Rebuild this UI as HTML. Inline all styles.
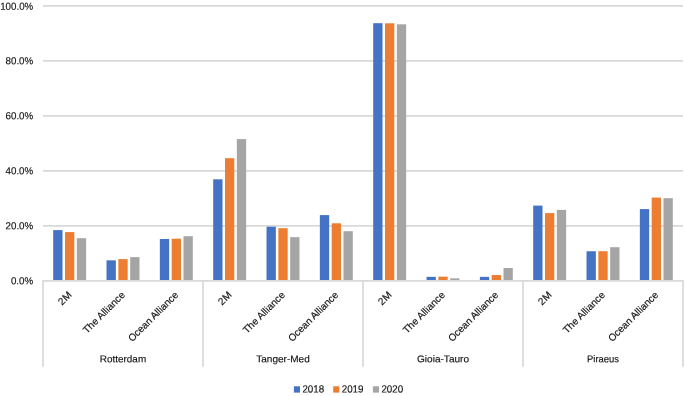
<!DOCTYPE html><html><head><meta charset="utf-8"><style>html,body{margin:0;padding:0;background:#fff;overflow:hidden}svg{display:block;will-change:transform;opacity:.999}text{font-family:"Liberation Sans",sans-serif;fill:#111;stroke:#111;stroke-width:.15px}</style></head><body>
<svg width="685" height="396" viewBox="0 0 685 396">
<rect width="685" height="396" fill="#fff"/>
<line x1="43.0" x2="683.0" y1="225.89999999999998" y2="225.89999999999998" stroke="#D9D9D9" stroke-width="1.7"/>
<line x1="43.0" x2="683.0" y1="170.89999999999998" y2="170.89999999999998" stroke="#D9D9D9" stroke-width="1.7"/>
<line x1="43.0" x2="683.0" y1="115.89999999999998" y2="115.89999999999998" stroke="#D9D9D9" stroke-width="1.7"/>
<line x1="43.0" x2="683.0" y1="60.89999999999998" y2="60.89999999999998" stroke="#D9D9D9" stroke-width="1.7"/>
<line x1="43.0" x2="683.0" y1="5.899999999999977" y2="5.899999999999977" stroke="#D9D9D9" stroke-width="1.7"/>
<text transform="translate(33.2,284.25) rotate(0.03)" font-size="10.2" text-anchor="end" textLength="22.3" lengthAdjust="spacingAndGlyphs">0.0%</text>
<text transform="translate(33.2,229.25) rotate(0.03)" font-size="10.2" text-anchor="end" textLength="27.7" lengthAdjust="spacingAndGlyphs">20.0%</text>
<text transform="translate(33.2,174.25) rotate(0.03)" font-size="10.2" text-anchor="end" textLength="27.7" lengthAdjust="spacingAndGlyphs">40.0%</text>
<text transform="translate(33.2,119.25) rotate(0.03)" font-size="10.2" text-anchor="end" textLength="27.7" lengthAdjust="spacingAndGlyphs">60.0%</text>
<text transform="translate(33.2,64.25) rotate(0.03)" font-size="10.2" text-anchor="end" textLength="27.7" lengthAdjust="spacingAndGlyphs">80.0%</text>
<text transform="translate(33.2,9.75) rotate(0.03)" font-size="10.2" text-anchor="end" textLength="33.0" lengthAdjust="spacingAndGlyphs">100.0%</text>
<rect x="53.19" y="230.10" width="9.31" height="50.80" fill="#4472C4"/>
<rect x="65.01" y="232.10" width="9.31" height="48.80" fill="#ED7D31"/>
<rect x="76.83" y="238.20" width="9.31" height="42.70" fill="#A5A5A5"/>
<rect x="106.53" y="260.35" width="9.31" height="20.55" fill="#4472C4"/>
<rect x="118.35" y="259.10" width="9.31" height="21.80" fill="#ED7D31"/>
<rect x="130.17" y="257.10" width="9.31" height="23.80" fill="#A5A5A5"/>
<rect x="159.86" y="239.00" width="9.31" height="41.90" fill="#4472C4"/>
<rect x="171.68" y="238.70" width="9.31" height="42.20" fill="#ED7D31"/>
<rect x="183.50" y="236.20" width="9.31" height="44.70" fill="#A5A5A5"/>
<rect x="213.19" y="179.30" width="9.31" height="101.60" fill="#4472C4"/>
<rect x="225.01" y="158.20" width="9.31" height="122.70" fill="#ED7D31"/>
<rect x="236.83" y="139.10" width="9.31" height="141.80" fill="#A5A5A5"/>
<rect x="266.53" y="226.70" width="9.31" height="54.20" fill="#4472C4"/>
<rect x="278.35" y="228.20" width="9.31" height="52.70" fill="#ED7D31"/>
<rect x="290.17" y="237.15" width="9.31" height="43.75" fill="#A5A5A5"/>
<rect x="319.86" y="215.10" width="9.31" height="65.80" fill="#4472C4"/>
<rect x="331.68" y="223.30" width="9.31" height="57.60" fill="#ED7D31"/>
<rect x="343.50" y="231.20" width="9.31" height="49.70" fill="#A5A5A5"/>
<rect x="373.19" y="23.20" width="9.31" height="257.70" fill="#4472C4"/>
<rect x="385.01" y="23.30" width="9.31" height="257.60" fill="#ED7D31"/>
<rect x="396.83" y="24.30" width="9.31" height="256.60" fill="#A5A5A5"/>
<rect x="426.53" y="276.85" width="9.31" height="4.05" fill="#4472C4"/>
<rect x="438.35" y="276.65" width="9.31" height="4.25" fill="#ED7D31"/>
<rect x="450.17" y="278.30" width="9.31" height="2.60" fill="#A5A5A5"/>
<rect x="479.86" y="276.85" width="9.31" height="4.05" fill="#4472C4"/>
<rect x="491.68" y="275.05" width="9.31" height="5.85" fill="#ED7D31"/>
<rect x="503.50" y="268.00" width="9.31" height="12.90" fill="#A5A5A5"/>
<rect x="533.19" y="205.60" width="9.31" height="75.30" fill="#4472C4"/>
<rect x="545.01" y="213.10" width="9.31" height="67.80" fill="#ED7D31"/>
<rect x="556.83" y="209.90" width="9.31" height="71.00" fill="#A5A5A5"/>
<rect x="586.53" y="251.25" width="9.31" height="29.65" fill="#4472C4"/>
<rect x="598.35" y="251.20" width="9.31" height="29.70" fill="#ED7D31"/>
<rect x="610.17" y="247.20" width="9.31" height="33.70" fill="#A5A5A5"/>
<rect x="639.86" y="209.10" width="9.31" height="71.80" fill="#4472C4"/>
<rect x="651.68" y="197.60" width="9.31" height="83.30" fill="#ED7D31"/>
<rect x="663.50" y="198.15" width="9.31" height="82.75" fill="#A5A5A5"/>
<line x1="42.15" x2="683.85" y1="280.9" y2="280.9" stroke="#D9D9D9" stroke-width="1.7"/>
<line x1="43.0" x2="43.0" y1="280.9" y2="366.8" stroke="#D9D9D9" stroke-width="1.7"/>
<line x1="203.0" x2="203.0" y1="280.9" y2="366.8" stroke="#D9D9D9" stroke-width="1.7"/>
<line x1="363.0" x2="363.0" y1="280.9" y2="366.8" stroke="#D9D9D9" stroke-width="1.7"/>
<line x1="523.0" x2="523.0" y1="280.9" y2="366.8" stroke="#D9D9D9" stroke-width="1.7"/>
<line x1="683.0" x2="683.0" y1="280.9" y2="366.8" stroke="#D9D9D9" stroke-width="1.7"/>
<text transform="translate(72.27,295.5) rotate(-45)" font-size="10.0" text-anchor="end" textLength="14.4" lengthAdjust="spacingAndGlyphs">2M</text>
<text transform="translate(125.60,295.5) rotate(-45)" font-size="10.0" text-anchor="end" textLength="54.6" lengthAdjust="spacingAndGlyphs">The Alliance</text>
<text transform="translate(178.93,295.5) rotate(-45)" font-size="10.0" text-anchor="end" textLength="66.2" lengthAdjust="spacingAndGlyphs">Ocean Alliance</text>
<text transform="translate(232.27,295.5) rotate(-45)" font-size="10.0" text-anchor="end" textLength="14.4" lengthAdjust="spacingAndGlyphs">2M</text>
<text transform="translate(285.60,295.5) rotate(-45)" font-size="10.0" text-anchor="end" textLength="54.6" lengthAdjust="spacingAndGlyphs">The Alliance</text>
<text transform="translate(338.93,295.5) rotate(-45)" font-size="10.0" text-anchor="end" textLength="66.2" lengthAdjust="spacingAndGlyphs">Ocean Alliance</text>
<text transform="translate(392.27,295.5) rotate(-45)" font-size="10.0" text-anchor="end" textLength="14.4" lengthAdjust="spacingAndGlyphs">2M</text>
<text transform="translate(445.60,295.5) rotate(-45)" font-size="10.0" text-anchor="end" textLength="54.6" lengthAdjust="spacingAndGlyphs">The Alliance</text>
<text transform="translate(498.93,295.5) rotate(-45)" font-size="10.0" text-anchor="end" textLength="66.2" lengthAdjust="spacingAndGlyphs">Ocean Alliance</text>
<text transform="translate(552.27,295.5) rotate(-45)" font-size="10.0" text-anchor="end" textLength="14.4" lengthAdjust="spacingAndGlyphs">2M</text>
<text transform="translate(605.60,295.5) rotate(-45)" font-size="10.0" text-anchor="end" textLength="54.6" lengthAdjust="spacingAndGlyphs">The Alliance</text>
<text transform="translate(658.93,295.5) rotate(-45)" font-size="10.0" text-anchor="end" textLength="66.2" lengthAdjust="spacingAndGlyphs">Ocean Alliance</text>
<text transform="translate(123.0,362.3) rotate(0.03)" font-size="9.8" text-anchor="middle" textLength="46.3" lengthAdjust="spacingAndGlyphs">Rotterdam</text>
<text transform="translate(283.0,362.3) rotate(0.03)" font-size="9.8" text-anchor="middle" textLength="53.5" lengthAdjust="spacingAndGlyphs">Tanger-Med</text>
<text transform="translate(443.0,362.3) rotate(0.03)" font-size="9.8" text-anchor="middle" textLength="52.1" lengthAdjust="spacingAndGlyphs">Gioia-Tauro</text>
<text transform="translate(603.0,362.3) rotate(0.03)" font-size="9.8" text-anchor="middle" textLength="31.9" lengthAdjust="spacingAndGlyphs">Piraeus</text>
<rect x="293.9" y="386.3" width="6.1" height="6.3" fill="#4472C4"/>
<text transform="translate(302.40,392.6) rotate(0.03)" font-size="10.4" textLength="21.8" lengthAdjust="spacingAndGlyphs">2018</text>
<rect x="333.2" y="386.3" width="6.1" height="6.3" fill="#ED7D31"/>
<text transform="translate(341.70,392.6) rotate(0.03)" font-size="10.4" textLength="21.8" lengthAdjust="spacingAndGlyphs">2019</text>
<rect x="372.9" y="386.3" width="6.1" height="6.3" fill="#A5A5A5"/>
<text transform="translate(381.40,392.6) rotate(0.03)" font-size="10.4" textLength="21.8" lengthAdjust="spacingAndGlyphs">2020</text>
</svg></body></html>
